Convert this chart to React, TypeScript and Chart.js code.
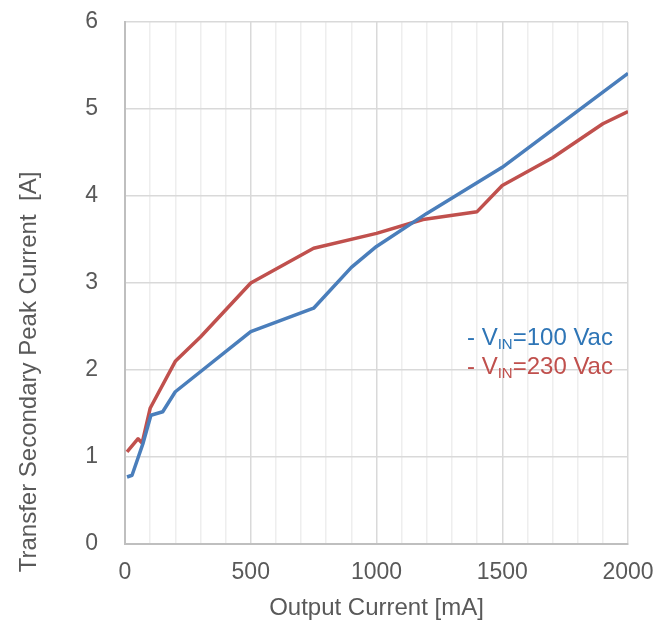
import React, { useEffect, useRef } from "react";
import { Chart, registerables } from "chart.js";

Chart.register(...registerables);

const blueX = [8, 28, 72, 103, 150, 200, 500, 750, 900, 1000, 1200, 1500, 2000];
const blueY = [0.77, 0.79, 1.16, 1.48, 1.52, 1.75, 2.44, 2.71, 3.18, 3.42, 3.8, 4.33, 5.41];
const redX = [8, 52, 68, 100, 200, 300, 500, 750, 1000, 1185, 1400, 1500, 1700, 1900, 2000];
const redY = [1.06, 1.21, 1.16, 1.56, 2.1, 2.38, 3.0, 3.4, 3.57, 3.73, 3.82, 4.12, 4.44, 4.83, 4.97];

const legendLabels = ["=100 Vac", "=230 Vac"];
const xTitle = "Output Current [mA]";
const yTitle = "Transfer Secondary Peak Current  [A]";

const BLUE = "#4a7ebb";
const RED = "#c0504d";
const BLUE_TEXT = "#2e75b6";
const TEXT = "#595959";
const FONT = "Liberation Sans, Arial, sans-serif";

const decorPlugin = {
  id: "decor",
  afterDraw(chart: any) {
    const ctx = chart.ctx;
    ctx.save();
    ctx.fillStyle = TEXT;
    ctx.font = `24px ${FONT}`;
    ctx.textAlign = "center";
    ctx.textBaseline = "alphabetic";
    const area = chart.chartArea;
    ctx.fillText(xTitle, (area.left + area.right) / 2, 615);
    ctx.save();
    ctx.translate(36, 372);
    ctx.rotate(-Math.PI / 2);
    ctx.fillText(yTitle, 0, 0);
    ctx.restore();

    const colors = [BLUE_TEXT, RED];
    const baselines = [345, 374];
    ctx.textAlign = "left";
    for (let i = 0; i < legendLabels.length; i++) {
      let x = 467;
      const y = baselines[i];
      ctx.fillStyle = colors[i];
      ctx.font = `24px ${FONT}`;
      ctx.fillText("- V", x, y);
      x += ctx.measureText("- V").width;
      ctx.font = `15px ${FONT}`;
      ctx.fillText("IN", x, y + 4);
      x += ctx.measureText("IN").width;
      ctx.font = `24px ${FONT}`;
      ctx.fillText(legendLabels[i], x, y);
    }
    ctx.restore();
  },
};

export default function App() {
  const ref = useRef<HTMLCanvasElement | null>(null);
  useEffect(() => {
    if (!ref.current) return;
    const chart = new Chart(ref.current, {
      type: "line",
      data: {
        datasets: [
          {
            label: "VIN=100 Vac",
            data: blueX.map((x, i) => ({ x, y: blueY[i] })),
            borderColor: BLUE,
            borderWidth: 3.5,
            pointRadius: 0,
            borderJoinStyle: "round",
            tension: 0,
          },
          {
            label: "VIN=230 Vac",
            data: redX.map((x, i) => ({ x, y: redY[i] })),
            borderColor: RED,
            borderWidth: 3.5,
            pointRadius: 0,
            borderJoinStyle: "round",
            tension: 0,
          },
        ],
      },
      options: {
        animation: false,
        responsive: false,
        layout: { padding: { top: 22, right: 41, left: 0, bottom: 0 } },
        plugins: { legend: { display: false }, tooltip: { enabled: false } },
        scales: {
          x: {
            type: "linear",
            min: 0,
            max: 2000,
            afterFit: (s: any) => {
              s.height = 80;
              s.paddingTop = 0;
              s.paddingBottom = 0;
            },
            ticks: {
              stepSize: 100,
              autoSkip: false,
              maxRotation: 0,
              padding: 15,
              color: TEXT,
              font: { size: 23, family: FONT },
              callback: (v: any) => (Number(v) % 500 === 0 ? String(v) : ""),
            },
            grid: {
              drawTicks: false,
              lineWidth: 1.5,
              color: (c: any) =>
                c.tick && c.tick.value % 500 === 0 ? "#d9d9d9" : "#eeeeee",
            },
            border: { color: "#bfbfbf", width: 2 },
          },
          y: {
            min: 0,
            max: 6,
            afterFit: (s: any) => {
              s.width = 125;
              s.paddingTop = 0;
              s.paddingBottom = 0;
            },
            ticks: {
              stepSize: 1,
              padding: 27,
              color: TEXT,
              font: { size: 23, family: FONT },
            },
            grid: { drawTicks: false, lineWidth: 1.5, color: "#d9d9d9" },
            border: { color: "#bfbfbf", width: 2 },
          },
        },
      },
      plugins: [decorPlugin],
    });
    return () => chart.destroy();
  }, []);
  return (
    <div style={{ position: "fixed", left: 0, top: 0, width: 669, height: 624, background: "#fff" }}>
      <canvas ref={ref} width={669} height={624} />
    </div>
  );
}
